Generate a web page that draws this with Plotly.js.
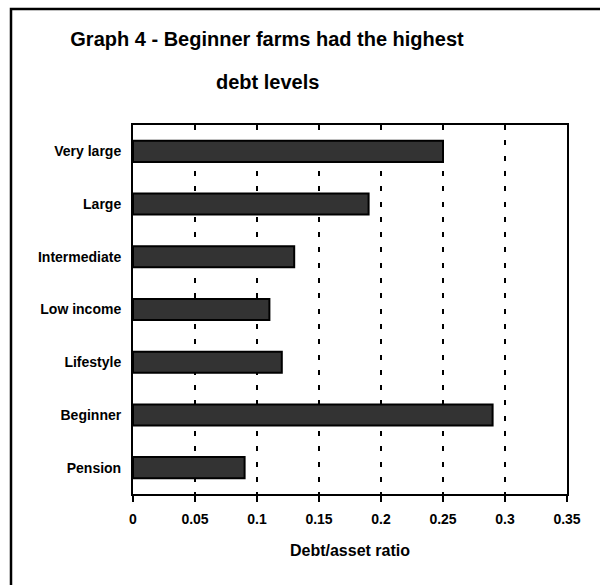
<!DOCTYPE html>
<html>
<head>
<meta charset="utf-8">
<script src="https://cdn.plot.ly/plotly-3.0.1.min.js"></script>
<style>
  html, body { margin: 0; padding: 0; background: #ffffff; }
  #chart { width: 600px; height: 585px; }
</style>
</head>
<body>
<div id="chart"></div>
<script>
// Farm types, listed from the top of the chart downwards
const farmTypes = ["Very large", "Large", "Intermediate", "Low income", "Lifestyle", "Beginner", "Pension"];
// Debt/asset ratio for each farm type
const debtAssetRatio = [0.25, 0.19, 0.13, 0.11, 0.12, 0.29, 0.09];
// Horizontal axis ticks
const xTickValues = [0, 0.05, 0.1, 0.15, 0.2, 0.25, 0.3, 0.35];
const xTickLabels = ["0", "0.05", "0.1", "0.15", "0.2", "0.25", "0.3", "0.35"];

const FONT = "Liberation Sans, Arial, Helvetica, sans-serif";

const trace = {
  type: "bar",
  orientation: "h",
  x: debtAssetRatio,
  y: farmTypes,
  marker: { color: "#333333", line: { color: "#000000", width: 2 } },
  hoverinfo: "x+y"
};

const layout = {
  width: 600,
  height: 585,
  margin: { l: 133, r: 33, t: 125, b: 91, pad: 0 },
  paper_bgcolor: "#ffffff",
  plot_bgcolor: "#ffffff",
  showlegend: false,
  bargap: 0.6,
  font: { family: FONT, color: "#000000", weight: "bold" },
  title: {
    text: "Graph 4 - Beginner farms had the highest",
    font: { family: FONT, size: 20, color: "#000000", weight: "bold" },
    xref: "container", x: 0.445, xanchor: "center",
    yref: "container", y: 1 - 32 / 585, yanchor: "top"
  },
  annotations: [
    // Second line of the chart title
    {
      text: "debt levels",
      font: { family: FONT, size: 20, color: "#000000", weight: "bold" },
      xref: "paper", x: (267 - 133) / 434, xanchor: "center",
      yref: "paper", y: (494 - 82) / 369, yanchor: "middle",
      showarrow: false
    }
  ],
  xaxis: {
    range: [0, 0.35],
    tickvals: xTickValues,
    ticktext: xTickLabels,
    ticks: "outside", ticklen: 6, tickwidth: 2, tickcolor: "#000000",
    tickfont: { family: FONT, size: 14, color: "#000000", weight: "bold" },
    ticklabelstandoff: 5,
    showline: true, linecolor: "#000000", linewidth: 2, mirror: true,
    showgrid: true, gridcolor: "#000000", gridwidth: 2, griddash: "5px,10.3px",
    zeroline: false,
    title: {
      text: "Debt/asset ratio",
      font: { family: FONT, size: 16, color: "#000000", weight: "bold" },
      standoff: 19
    }
  },
  yaxis: {
    type: "category",
    autorange: "reversed",
    ticks: "",
    tickfont: { family: FONT, size: 14, color: "#000000", weight: "bold" },
    ticklabelstandoff: 7,
    showline: true, linecolor: "#000000", linewidth: 2, mirror: true,
    showgrid: false, zeroline: false
  },
  shapes: [
    // Outer chart frame (runs past the right and bottom edges of the page)
    {
      type: "rect", xref: "paper", yref: "paper", layer: "below",
      x0: (11 - 133) / 434, x1: 1.6,
      y0: -0.6, y1: (494 - 9) / 369,
      line: { color: "#000000", width: 2.5 }, fillcolor: "rgba(0,0,0,0)"
    }
  ]
};

Plotly.newPlot("chart", [trace], layout, { displayModeBar: false, staticPlot: true });
</script>
</body>
</html>
